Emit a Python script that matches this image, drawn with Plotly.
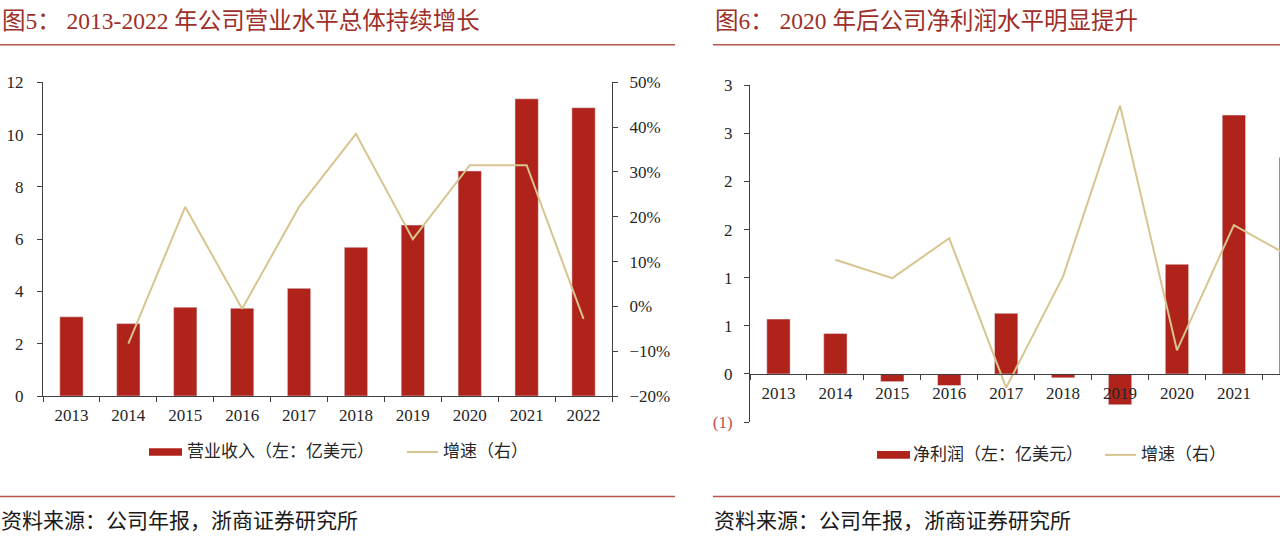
# import libraries
import plotly.graph_objects as go

# Chart data
years = ["2013", "2014", "2015", "2016", "2017", "2018", "2019", "2020", "2021", "2022"]

# left panel: revenue (100 million USD) and its growth
revenue = [3.03, 2.77, 3.40, 3.36, 4.12, 5.69, 6.54, 8.61, 11.37, 11.03]
revenue_growth = [None, -0.083, 0.222, -0.005, 0.222, 0.385, 0.150, 0.315, 0.315, -0.028]

# right panel: net profit (100 million USD) and its growth (right axis is cut off in the picture)
net_profit = [0.57, 0.42, -0.08, -0.12, 0.63, -0.04, -0.32, 1.14, 2.69, 2.25]
profit_growth = [None, -0.29, -1.16, 0.73, -6.36, -1.08, 7.04, -4.59, 1.36, -0.15]

# texts
title_left = "图5： 2013-2022 年公司营业水平总体持续增长"
title_right = "图6： 2020 年后公司净利润水平明显提升"
source_text = "资料来源：公司年报，浙商证券研究所"
revenue_name = "营业收入（左：亿美元）"
profit_name = "净利润（左：亿美元）"
growth_name = "增速（右）"

# right panel left-axis ticks (labels rounded like the original)
profit_tickvals = [-0.5, 0, 0.5, 1.0, 1.5, 2.0, 2.5, 3.0]
profit_ticktext = ["<span style='color:#C0504D'>(1)</span>", "0", "1", "1", "2", "2", "3", "3"]

# colours and fonts
bar_color = "#B0231A"
line_color = "#D8C48F"
title_color = "#9E2F29"
rule_color = "#B5564E"
axis_color = "#404040"
font_family = "Liberation Serif, Noto Sans CJK SC"

W, H = 1280, 545


# helpers to go from picture pixels to paper coordinates
def px(x):
    return x / W


def py(y):
    return 1 - y / H


figure = go.Figure()

# left panel traces
figure.add_trace(go.Bar(x=years, y=revenue, name=revenue_name, marker_color=bar_color,
                        width=0.41, xaxis="x", yaxis="y"))
figure.add_trace(go.Scatter(x=years, y=revenue_growth, name=growth_name, mode="lines",
                            line=dict(color=line_color, width=2), xaxis="x", yaxis="y2"))

# right panel traces
figure.add_trace(go.Bar(x=years, y=net_profit, name=profit_name, marker_color=bar_color,
                        width=0.41, xaxis="x3", yaxis="y3"))
figure.add_trace(go.Scatter(x=years, y=profit_growth, name=growth_name, mode="lines",
                            line=dict(color=line_color, width=2), xaxis="x3", yaxis="y4"))

tick_font = dict(family=font_family, size=17, color="#262626")
common_axis = dict(showgrid=False, zeroline=False, showline=True, linecolor=axis_color, linewidth=1,
                   ticks="outside", ticklen=5, tickcolor=axis_color, tickfont=tick_font)

figure.update_layout(
    width=W, height=H,
    margin=dict(l=0, r=0, t=0, b=0),
    paper_bgcolor="white", plot_bgcolor="white",
    showlegend=False,
    font=dict(family=font_family),
    xaxis=dict(domain=[px(43), px(612)], anchor="y", type="category", range=[-0.5, 9.5],
               tickson="boundaries", ticklabelstandoff=4, **common_axis),
    yaxis=dict(domain=[py(401), py(76)], anchor="x", range=[0, 12], dtick=2,
               ticklabelstandoff=10, **common_axis),
    yaxis2=dict(overlaying="y", anchor="x", side="right", range=[-0.2, 0.5], dtick=0.1,
                tickformat=".0%", ticklabelstandoff=8, **common_axis),
    xaxis3=dict(domain=[px(750), 1.0], anchor="free", position=py(378), type="category",
                range=[-0.5, 8.81], tickson="boundaries", ticklabelstandoff=4, **common_axis),
    yaxis3=dict(domain=[py(428), py(79)], anchor="x3", range=[-0.5, 3.0],
                tickvals=profit_tickvals, ticktext=profit_ticktext, ticklabelstandoff=8, **common_axis),
    yaxis4=dict(overlaying="y3", anchor="x3", range=[-8, 8], visible=False),
)

# rules under titles and above sources
shapes = []
for x0, x1 in [(0, 675), (713, 1280)]:
    shapes.append(dict(type="line", xref="paper", yref="paper", x0=px(x0), x1=px(x1), y0=py(37), y1=py(37),
                       line=dict(color=rule_color, width=1.5)))
    shapes.append(dict(type="line", xref="paper", yref="paper", x0=px(x0), x1=px(x1), y0=py(505), y1=py(505),
                       line=dict(color=rule_color, width=1.5)))

# hand drawn legend symbols
for rx, lx, ly in [(149, 407, 459), (877, 1105, 462)]:
    shapes.append(dict(type="rect", xref="paper", yref="paper", x0=px(rx), x1=px(rx + 33),
                       y0=py(ly + 4), y1=py(ly - 4), fillcolor=bar_color, line=dict(width=0)))
    shapes.append(dict(type="line", xref="paper", yref="paper", x0=px(lx), x1=px(lx + 31),
                       y0=py(ly), y1=py(ly), line=dict(color=line_color, width=2)))
figure.update_layout(shapes=shapes)

# titles, legend texts and sources
annotations = [
    dict(text=title_left, x=px(0), y=py(12), font=dict(size=23.5, color=title_color)),
    dict(text=title_right, x=px(713), y=py(12), font=dict(size=23.5, color=title_color)),
    dict(text=source_text, x=px(-1), y=py(530), font=dict(size=21, color="#1a1a1a")),
    dict(text=source_text, x=px(712), y=py(530), font=dict(size=21, color="#1a1a1a")),
    dict(text=revenue_name, x=px(185), y=py(459), font=dict(size=17, color="#262626")),
    dict(text=growth_name, x=px(441), y=py(459), font=dict(size=17, color="#262626")),
    dict(text=profit_name, x=px(911), y=py(462), font=dict(size=17, color="#262626")),
    dict(text=growth_name, x=px(1139), y=py(462), font=dict(size=17, color="#262626")),
]
for a in annotations:
    a.update(xref="paper", yref="paper", xanchor="left", yanchor="middle", showarrow=False)
    a["font"]["family"] = font_family
figure.update_layout(annotations=annotations)

# page script: no default margins and nothing below the figure, so the page is exactly the figure size
page_fix = (
    "var s=document.createElement('style');"
    "s.innerHTML='html,body{margin:0;padding:0;height:545px;overflow:hidden;}';"
    "document.head.appendChild(s);"
    "var gd=document.getElementById('{plot_id}');"
    "gd.style.display='block';"
    "gd.parentElement.style.height='545px';gd.parentElement.style.overflow='hidden';"
)

# Export data html
figure.write_html("out.html", config={"displayModeBar": False}, post_script=page_fix)
